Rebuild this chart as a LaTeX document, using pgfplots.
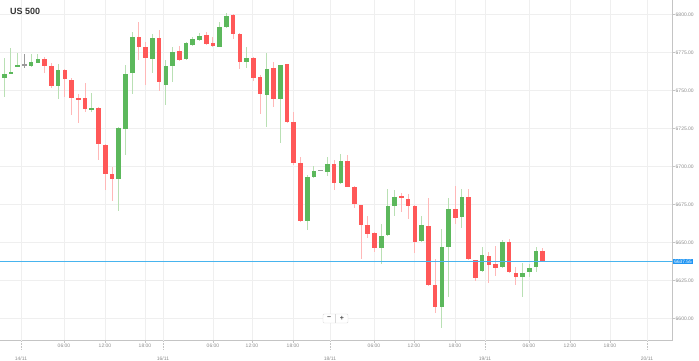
\documentclass[border=0pt]{standalone}
\usepackage{fontspec}
\setmainfont{Liberation Sans}
\usepackage{pgfplots}
\usepackage{pgfplotstable}
\pgfplotsset{compat=1.18}
\definecolor{cgreen}{HTML}{5CB85C}
\definecolor{cgreenw}{HTML}{B9E0B4}
\definecolor{cred}{HTML}{FF5858}
\definecolor{credw}{HTML}{FFB8B8}
\definecolor{cgray}{HTML}{9A9A9A}
\definecolor{pline}{HTML}{48B4EE}
\definecolor{pbox}{HTML}{2196F3}
\definecolor{gridc}{HTML}{EFEFEF}
\definecolor{axisc}{HTML}{C4C4C4}
\definecolor{labc}{HTML}{8C8C8C}

% candles: x position, open, high, low, close
\pgfplotstableread{
x o h l c
4.3 6757.95 6771.09 6745.86 6760.77
11.0 6761.23 6777.66 6761.23 6762.28
17.8 6765.37 6774.37 6765.17 6766.49
31.2 6766.22 6773.71 6765.17 6768.46
37.9 6768.46 6773.91 6767.80 6770.63
58.1 6753.08 6767.34 6744.15 6763.40
91.8 6737.58 6748.09 6736.00 6738.89
118.7 6691.78 6726.15 6670.76 6725.49
125.4 6724.63 6766.49 6707.55 6760.57
132.2 6761.23 6788.17 6747.43 6785.28
152.4 6770.63 6787.05 6761.62 6784.62
165.8 6753.54 6769.97 6740.40 6766.22
172.6 6766.03 6778.71 6755.71 6775.42
186.0 6770.43 6781.60 6769.97 6780.94
192.7 6780.28 6784.88 6779.36 6783.77
199.5 6783.31 6787.51 6782.65 6785.93
219.7 6778.71 6794.74 6778.71 6791.65
226.4 6791.85 6801.18 6790.99 6798.88
246.6 6768.46 6778.71 6764.51 6771.09
266.8 6746.97 6774.37 6726.15 6764.25
280.2 6744.34 6767.00 6715.24 6766.68
307.2 6664.19 6694.41 6658.27 6692.90
313.9 6693.29 6700.52 6692.24 6697.24
327.3 6696.18 6706.04 6693.75 6701.44
340.8 6689.35 6708.21 6688.30 6703.81
381.2 6646.25 6662.22 6635.93 6654.53
387.9 6654.99 6685.67 6654.60 6674.24
394.6 6674.04 6684.55 6667.47 6680.15
421.6 6651.05 6667.80 6650.70 6661.56
441.8 6607.88 6659.39 6594.34 6647.30
448.5 6647.30 6679.50 6614.45 6672.07
461.9 6666.62 6685.21 6660.04 6680.15
482.1 6631.33 6647.30 6630.88 6641.85
502.3 6633.77 6651.70 6633.50 6650.59
522.5 6627.20 6636.39 6614.05 6630.22
529.2 6630.48 6635.93 6627.59 6633.50
536.0 6633.77 6647.30 6630.48 6644.48
}\upcandles

\pgfplotstableread{
x o h l c
44.7 6770.63 6772.14 6761.62 6766.22
51.4 6766.22 6767.80 6751.37 6753.08
64.9 6763.40 6764.05 6745.86 6757.48
71.6 6757.29 6757.95 6733.83 6745.20
78.3 6745.20 6747.43 6728.38 6744.15
85.1 6744.80 6754.66 6736.00 6737.77
98.5 6738.63 6739.29 6704.27 6714.78
105.3 6714.58 6715.24 6685.02 6695.07
112.0 6694.87 6699.87 6677.53 6691.78
138.9 6785.28 6795.13 6769.97 6778.71
145.6 6778.71 6781.99 6753.54 6771.09
159.1 6784.62 6789.68 6749.80 6755.71
179.3 6775.88 6779.36 6769.31 6769.97
206.2 6786.39 6788.17 6779.82 6780.28
212.9 6780.94 6784.88 6778.71 6779.17
233.1 6799.40 6800.39 6783.77 6787.25
239.9 6787.05 6787.51 6764.05 6768.85
253.3 6771.09 6771.74 6756.17 6758.34
260.0 6759.00 6760.11 6734.95 6747.43
273.5 6764.51 6768.85 6739.29 6744.15
287.0 6767.14 6767.50 6728.38 6729.04
293.7 6729.04 6736.00 6700.98 6702.10
300.4 6702.76 6706.43 6663.73 6664.19
334.1 6701.44 6704.27 6684.55 6688.96
347.5 6703.81 6707.55 6686.33 6686.72
354.3 6686.72 6686.90 6672.53 6675.36
361.0 6674.70 6675.00 6639.02 6661.56
367.7 6661.56 6667.47 6653.21 6655.64
374.5 6656.10 6657.16 6643.62 6646.25
401.4 6680.61 6682.78 6670.30 6679.76
408.1 6678.44 6682.39 6665.96 6674.24
414.8 6674.24 6674.70 6643.36 6650.19
428.3 6660.90 6679.10 6621.80 6622.14
435.0 6622.14 6639.02 6603.54 6607.88
455.2 6672.53 6687.18 6662.68 6666.36
468.7 6680.15 6685.21 6638.56 6639.02
475.4 6638.56 6638.80 6624.76 6626.54
488.9 6641.19 6644.02 6623.25 6635.74
495.6 6635.93 6647.76 6628.05 6633.50
509.1 6650.59 6652.16 6630.22 6630.48
515.8 6630.22 6634.16 6622.14 6627.20
542.7 6644.68 6646.25 6637.30 6637.55
}\downcandles

\pgfplotstableread{
x o h l c
24.5 6766.88 6773.91 6765.17 6766.88
320.6 6697.50 6697.70 6697.30 6697.50
}\flatcandles

% current price level: centre x, price, half length
\pgfplotstableread{
x y ex
336.35 6637.55 336.35
}\pricelevel

\pgfplotsset{
 wick/.style={draw=none, forget plot, error bars/.cd, y dir=both, y explicit, error mark=none,
   error bar style={line width=1pt, draw=#1}},
 body/.style={draw=none, forget plot, error bars/.cd, y dir=both, y explicit, error mark=none,
   error bar style={line width=4.6pt, draw=#1}},
}

\begin{document}
\begin{tikzpicture}
\begin{axis}[
 at={(0,0)}, anchor=south west,
 scale only axis, width=672.7pt, height=340.7pt,
 xmin=0, xmax=672.7, ymin=6585.55, ymax=6809.4,
 axis x line*=bottom, axis y line*=right,
 axis line style={color=axisc, line width=0.8pt},
 tick align=outside,
 major tick length=2pt,
 tick style={color=axisc, line width=0.6pt},
 ytick={6600,6625,...,6800},
 yticklabel={\pgfmathprintnumber[fixed,fixed zerofill,precision=2,1000 sep={},assume math mode=true]{\tick}},
 yticklabel style={anchor=west, inner sep=0.8pt, font=\fontsize{5}{6}\selectfont, text=labc},
 xtick={64,105,145,213,252,293,374,414,455,529,570,610},
 xticklabels={06:00,12:00,18:00,06:00,12:00,18:00,06:00,12:00,18:00,06:00,12:00,18:00},
 xticklabel style={anchor=north, inner sep=0.8pt, font=\fontsize{5}{6}\selectfont, text=labc},
 extra x ticks={21,163,330,485,647},
 extra x tick labels={14/11,16/11,18/11,19/11,20/11},
 extra x tick style={major tick length=9pt, tick style={color=axisc, densely dotted}, xticklabel style={yshift=-6pt}, grid=major},
 grid=major, grid style={color=gridc, line width=0.6pt},
 clip mode=individual,
]
% wicks
\addplot[wick=cgreenw] table[x=x, y expr={(\thisrow{h}+\thisrow{l})/2}, y error expr={(\thisrow{h}-\thisrow{l})/2}] {\upcandles};
\addplot[wick=credw] table[x=x, y expr={(\thisrow{h}+\thisrow{l})/2}, y error expr={(\thisrow{h}-\thisrow{l})/2}] {\downcandles};
\addplot[wick=cgray] table[x=x, y expr={(\thisrow{h}+\thisrow{l})/2}, y error expr={(\thisrow{h}-\thisrow{l})/2}] {\flatcandles};
% bodies
\addplot[body=cgreen] table[x=x, y expr={(\thisrow{o}+\thisrow{c})/2}, y error expr={max(abs(\thisrow{o}-\thisrow{c})/2,0.4)}] {\upcandles};
\addplot[body=cred] table[x=x, y expr={(\thisrow{o}+\thisrow{c})/2}, y error expr={max(abs(\thisrow{o}-\thisrow{c})/2,0.4)}] {\downcandles};
\addplot[body=cgray] table[x=x, y expr={(\thisrow{o}+\thisrow{c})/2}, y error expr={max(abs(\thisrow{o}-\thisrow{c})/2,0.4)}] {\flatcandles};
% current price line, drawn as a horizontal error bar so that it keeps its colour
\addplot[draw=none, forget plot, error bars/.cd, x dir=both, x explicit, error mark=none,
   error bar style={line width=0.9pt, draw=pline}] table[x=x, y=y, x error=ex] {\pricelevel};
\node[fill=pbox, text=white, anchor=west, inner sep=1pt, font=\fontsize{4.8}{5}\selectfont] at (axis cs:673.2,6637.55) {6637.55};
% title
\node[anchor=west, inner sep=0pt, font=\bfseries\fontsize{9}{10}\selectfont, text=black!80] at (rel axis cs:0.0149,0.9657) {US 500};
% zoom control
\draw[draw=black!15, fill=white, rounded corners=1pt] (axis cs:323,6597.2) rectangle (axis cs:348,6603.1);
\draw[draw=black!15] (axis cs:335.5,6597.2) -- (axis cs:335.5,6603.1);
\node[font=\bfseries\fontsize{7}{7}\selectfont, text=black!70, inner sep=0pt] at (axis cs:329.2,6600.15) {\textminus};
\node[font=\bfseries\fontsize{7}{7}\selectfont, text=black!70, inner sep=0pt] at (axis cs:341.8,6600.15) {+};
\end{axis}
\pgfresetboundingbox
\path[use as bounding box] (0,-20.3pt) rectangle (699pt,340.7pt);
\end{tikzpicture}
\end{document}
